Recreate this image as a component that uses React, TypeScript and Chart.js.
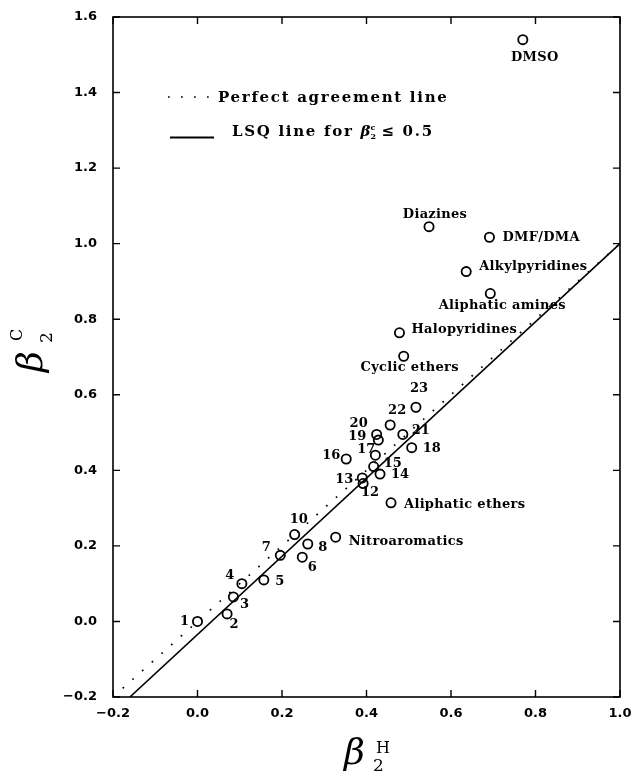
import React, { useEffect, useRef } from "react";
import { Chart, registerables } from "chart.js";

Chart.register(...registerables);

// Numbered solvents: beta2(H) versus beta2(C)
const numberedIds = ["1", "2", "3", "4", "5", "6", "7", "8", "10", "12", "13", "14", "15", "16", "17", "18", "19", "20", "21", "22", "23"];
const numberedBetaH = [0.0, 0.07, 0.085, 0.105, 0.157, 0.248, 0.196, 0.261, 0.23, 0.392, 0.39, 0.432, 0.417, 0.352, 0.421, 0.507, 0.428, 0.424, 0.486, 0.456, 0.517];
const numberedBetaC = [0.0, 0.02, 0.065, 0.1, 0.11, 0.17, 0.175, 0.205, 0.23, 0.365, 0.38, 0.39, 0.41, 0.43, 0.44, 0.46, 0.48, 0.495, 0.495, 0.52, 0.567];

// Solvent classes
const classNames = ["Nitroaromatics", "Aliphatic ethers", "Cyclic ethers", "Halopyridines", "Aliphatic amines", "Alkylpyridines", "DMF/DMA", "Diazines", "DMSO"];
const classBetaH = [0.327, 0.458, 0.488, 0.478, 0.693, 0.636, 0.691, 0.548, 0.77];
const classBetaC = [0.223, 0.314, 0.702, 0.764, 0.868, 0.926, 1.017, 1.045, 1.54];

// Reference lines (end points)
const perfectX = [-0.2, 1.0];
const perfectY = [-0.2, 1.0];
const lsqX = [-0.16, 1.0];
const lsqY = [-0.2, 1.0];

// Axis ticks
const xTicks = [-0.2, 0.0, 0.2, 0.4, 0.6, 0.8, 1.0];
const yTicks = [-0.2, 0.0, 0.2, 0.4, 0.6, 0.8, 1.0, 1.2, 1.4, 1.6];

// Label placement relative to the marker (px)
const numberedLabelPlacement: [number, number][] = [
  [-13, 0], [7, 11], [11, 8], [-12, -8], [16, 2], [10, 10], [-14, -8], [15, 4], [4, -15],
  [7, 9], [-18, 2], [20, 1], [19, -3], [-15, -3], [-9, -6], [20, 1], [-21, -3], [-18, -11],
  [18, -4], [7, -14], [3, -19],
];
const classLabelPlacement: [number, number, CanvasTextAlign][] = [
  [13, 4, "left"], [13, 2, "left"], [6, 11, "center"], [12, -3, "left"], [12, 12, "center"],
  [13, -5, "left"], [13, 0, "left"], [6, -12, "center"], [12, 18, "center"],
];

const toPoints = (xs: number[], ys: number[]) => xs.map((x, i) => ({ x, y: ys[i] }));
const fmtTick = (v: number | string) => Number(v).toFixed(1).replace("-", "\u2212");

const NUMBER_FONT = 'bold 13px "DejaVu Serif"';
const LABEL_FONT = 'bold 13px "DejaVu Serif"';
const LEGEND_FONT = 'bold 15px "DejaVu Serif"';

const frameTicksLabels = {
  id: "frameTicksLabels",
  afterDatasetsDraw(chart: any) {
    const { ctx, chartArea: a, scales } = chart;
    const xs = scales.x;
    const ys = scales.y;
    ctx.save();
    ctx.strokeStyle = "#000";
    ctx.lineWidth = 1.6;
    ctx.strokeRect(a.left, a.top, a.right - a.left, a.bottom - a.top);

    // inward tick marks on all four sides
    ctx.lineWidth = 1.4;
    ctx.beginPath();
    const tl = 7;
    xTicks.forEach((v) => {
      const px = xs.getPixelForValue(v);
      ctx.moveTo(px, a.bottom);
      ctx.lineTo(px, a.bottom - tl);
      ctx.moveTo(px, a.top);
      ctx.lineTo(px, a.top + tl);
    });
    yTicks.forEach((v) => {
      const py = ys.getPixelForValue(v);
      ctx.moveTo(a.left, py);
      ctx.lineTo(a.left + tl, py);
      ctx.moveTo(a.right, py);
      ctx.lineTo(a.right - tl, py);
    });
    ctx.stroke();

    // point labels
    ctx.fillStyle = "#000";
    ctx.textBaseline = "middle";
    ctx.font = NUMBER_FONT;
    const m0 = chart.getDatasetMeta(2);
    m0.data.forEach((el: any, i: number) => {
      const [dx, dy] = numberedLabelPlacement[i];
      ctx.textAlign = "center";
      ctx.fillText(numberedIds[i], el.x + dx, el.y + dy);
    });
    ctx.font = LABEL_FONT;
    const m1 = chart.getDatasetMeta(3);
    (ctx as any).letterSpacing = "0.3px";
    m1.data.forEach((el: any, i: number) => {
      const [dx, dy, align] = classLabelPlacement[i];
      ctx.textAlign = align;
      ctx.fillText(classNames[i], el.x + dx, el.y + dy);
    });
    (ctx as any).letterSpacing = "0px";
    ctx.restore();
  },
  afterDraw(chart: any) {
    const { ctx } = chart;
    ctx.save();
    ctx.fillStyle = "#000";
    ctx.strokeStyle = "#000";
    ctx.textBaseline = "alphabetic";
    ctx.textAlign = "left";

    // legend
    ctx.lineWidth = 1.7;
    ctx.setLineDash([1.7, 11.3]);
    ctx.beginPath();
    ctx.moveTo(168, 97);
    ctx.lineTo(212, 97);
    ctx.stroke();
    ctx.setLineDash([]);
    ctx.lineWidth = 2;
    ctx.beginPath();
    ctx.moveTo(170, 137.5);
    ctx.lineTo(214, 137.5);
    ctx.stroke();

    ctx.font = LEGEND_FONT;
    (ctx as any).letterSpacing = "1.7px";
    ctx.fillText("Perfect agreement line", 218, 102);
    const first = "LSQ line for ";
    ctx.fillText(first, 232, 136);
    let x = 232 + ctx.measureText(first).width;
    (ctx as any).letterSpacing = "0px";
    ctx.font = 'bold italic 15px "DejaVu Serif"';
    ctx.fillText("\u03B2", x, 136);
    x += ctx.measureText("\u03B2").width;
    ctx.font = 'bold 8px "DejaVu Serif"';
    ctx.fillText("c", x, 130);
    ctx.fillText("2", x, 139);
    x += 11;
    ctx.font = LEGEND_FONT;
    (ctx as any).letterSpacing = "1.7px";
    ctx.fillText("\u2264 0.5", x, 136);
    (ctx as any).letterSpacing = "0px";

    // x-axis title
    ctx.font = 'italic 36px "DejaVu Serif"';
    ctx.fillText("\u03B2", 344, 764);
    ctx.font = '16px "DejaVu Serif"';
    ctx.fillText("H", 376, 753);
    ctx.font = '17px "DejaVu Serif"';
    ctx.fillText("2", 373, 771);

    // y-axis title (rotated)
    ctx.translate(42, 372);
    ctx.rotate(-Math.PI / 2);
    ctx.font = 'italic 36px "DejaVu Serif"';
    ctx.fillText("\u03B2", 0, 0);
    ctx.font = '16px "DejaVu Serif"';
    ctx.fillText("C", 31, -20);
    ctx.font = '17px "DejaVu Serif"';
    ctx.fillText("2", 29, 10);
    ctx.restore();
  },
};

export default function App() {
  const canvasRef = useRef<HTMLCanvasElement | null>(null);

  useEffect(() => {
    const canvas = canvasRef.current;
    if (!canvas) return;
    const tickFont = { family: "DejaVu Sans", weight: "bold" as const, size: 13 };
    const chart = new Chart(canvas, {
      type: "scatter",
      data: {
        datasets: [
          {
            label: "Perfect agreement line",
            data: toPoints(perfectX, perfectY),
            showLine: true,
            borderColor: "#000",
            borderWidth: 1.7,
            borderDash: [1.7, 11.3],
            pointRadius: 0,
          },
          {
            label: "LSQ line",
            data: toPoints(lsqX, lsqY),
            showLine: true,
            borderColor: "#000",
            borderWidth: 1.6,
            pointRadius: 0,
          },
          {
            label: "Solvents",
            data: toPoints(numberedBetaH, numberedBetaC),
            pointStyle: "circle",
            pointRadius: 4.6,
            pointBorderWidth: 1.8,
            pointBorderColor: "#000",
            pointBackgroundColor: "rgba(0,0,0,0)",
          },
          {
            label: "Solvent classes",
            data: toPoints(classBetaH, classBetaC),
            pointStyle: "circle",
            pointRadius: 4.6,
            pointBorderWidth: 1.8,
            pointBorderColor: "#000",
            pointBackgroundColor: "rgba(0,0,0,0)",
          },
        ],
      },
      options: {
        responsive: false,
        animation: false,
        devicePixelRatio: 1,
        layout: { padding: { left: 0, right: 12, top: 17, bottom: 0 } },
        plugins: { legend: { display: false }, tooltip: { enabled: false } },
        scales: {
          x: {
            type: "linear",
            min: -0.2,
            max: 1.0,
            afterBuildTicks: (s: any) => {
              s.ticks = xTicks.map((v) => ({ value: v }));
            },
            afterFit: (s: any) => {
              s.height = 76;
              s.paddingLeft = 0;
              s.paddingRight = 0;
            },
            grid: { display: false, drawTicks: false },
            border: { display: false },
            ticks: { padding: 9, color: "#000", font: tickFont, callback: fmtTick, maxRotation: 0, autoSkip: false },
          },
          y: {
            type: "linear",
            min: -0.2,
            max: 1.6,
            afterBuildTicks: (s: any) => {
              s.ticks = yTicks.map((v) => ({ value: v }));
            },
            afterFit: (s: any) => {
              s.width = 113;
              s.paddingTop = 0;
              s.paddingBottom = 0;
            },
            grid: { display: false, drawTicks: false },
            border: { display: false },
            ticks: { padding: 16, color: "#000", font: tickFont, callback: fmtTick, autoSkip: false },
          },
        },
      },
      plugins: [frameTicksLabels],
    });
    return () => chart.destroy();
  }, []);

  return (
    <div style={{ position: "absolute", left: 0, top: 0, width: 632, height: 773, background: "#fff" }}>
      <canvas ref={canvasRef} width={632} height={773} style={{ display: "block" }} />
    </div>
  );
}
